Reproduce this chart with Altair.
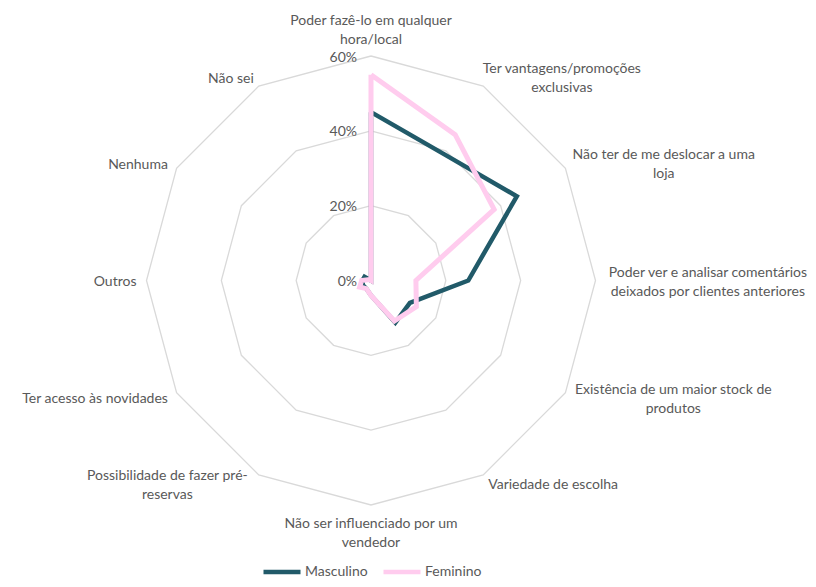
import numpy as np
import pandas as pd
import altair as alt

# ---------------- data ----------------
categories = [
    "Poder fazê-lo em qualquer hora/local",
    "Ter vantagens/promoções exclusivas",
    "Não ter de me deslocar a uma loja",
    "Poder ver e analisar comentários deixados por clientes anteriores",
    "Existência de um maior stock de produtos",
    "Variedade de escolha",
    "Não ser influenciado por um vendedor",
    "Possibilidade de fazer pré-reservas",
    "Ter acesso às novidades",
    "Outros",
    "Nenhuma",
    "Não sei",
]
label_lines = [
    ["Poder fazê-lo em qualquer", "hora/local"],
    ["Ter vantagens/promoções", "exclusivas"],
    ["Não ter de me deslocar a uma", "loja"],
    ["Poder ver e analisar comentários", "deixados por clientes anteriores"],
    ["Existência de um maior stock de", "produtos"],
    ["Variedade de escolha"],
    ["Não ser influenciado por um", "vendedor"],
    ["Possibilidade de fazer pré-", "reservas"],
    ["Ter acesso às novidades"],
    ["Outros"],
    ["Nenhuma"],
    ["Não sei"],
]
masculino = [45, 39, 45, 26, 12, 13, 4, 2.5, 2.5, 2.3, 2, 0]
feminino = [55, 45, 38, 12, 14, 12.5, 4, 2.5, 3.5, 2.5, 0.5, 0]
series_names = ["Masculino", "Feminino"]
series_colors = ["#215A69", "#FFCCEE"]
ring_values = [20, 40, 60]
tick_labels = ["0%", "20%", "40%", "60%"]
tick_values = [0, 20, 40, 60]

# ---------------- layout constants ----------------
W, H = 800, 571          # whole chart (px)
CX, CY = 363, 272.5      # centre of the radar (px, chart coords)
K = 224.5 / 60           # px per percentage point
FONT = "Lato"
FS = 14
TXT = "#595959"
LH = 19
CHARW = 6.4

n = len(categories)
theta = np.arange(n) * 2 * np.pi / n
S, C = np.sin(theta), np.cos(theta)

xdom = [-CX / K, (W - CX) / K]
ydom = [-(H - CY) / K, CY / K]
xs = alt.Scale(domain=xdom, nice=False, zero=False)
ys = alt.Scale(domain=ydom, nice=False, zero=False)

# series table
rows = []
for name, vals in zip(series_names, [masculino, feminino]):
    for k in range(n + 1):
        i = k % n
        rows.append({"series": name, "order": k,
                     "x": vals[i] * S[i], "y": vals[i] * C[i]})
series_df = pd.DataFrame(rows)

# ring table
rrows = []
for r in ring_values:
    for k in range(n + 1):
        i = k % n
        rrows.append({"ring": r, "order": k, "x": r * S[i], "y": r * C[i]})
ring_df = pd.DataFrame(rrows)

# category labels (block centred on anchor; first line placed accordingly)
outer = max(ring_values)
gap = 10 / K
lrows = []
for i, lines in enumerate(label_lines):
    s, c = S[i], C[i]
    vx, vy = outer * s, outer * c
    nl = len(lines)
    halfH = nl * LH / 2 / K
    if abs(s) < 0.01:
        x, y, al = vx, vy + c * (8 / K + halfH), "center"
    else:
        ex = vx + s * gap
        y = vy + c * gap
        if nl == 1:
            x, al = ex, ("left" if s > 0 else "right")
        else:
            halfW = max(len(t) for t in lines) * CHARW / 2 / K
            x, al = ex + np.sign(s) * halfW, "center"
    y_first = y + (nl - 1) * LH / 2 / K   # shift up so the block is centred
    lrows.append({"label": "\n".join(lines), "x": x, "y": y_first, "align": al})
label_df = pd.DataFrame(lrows)

tick_df = pd.DataFrame({"label": tick_labels, "v": tick_values})
tick_df["x"] = -14 / K
tick_df["y"] = tick_df["v"]

# ---------------- chart ----------------
ax = dict(axis=None)
rings = alt.Chart(ring_df).mark_line(stroke="#D9D9D9", strokeWidth=1.3).encode(
    x=alt.X("x:Q", scale=xs, **ax),
    y=alt.Y("y:Q", scale=ys, **ax),
    detail="ring:N",
    order="order:Q",
)

color = alt.Color(
    "series:N",
    scale=alt.Scale(domain=series_names, range=series_colors),
    legend=alt.Legend(
        title=None, orient="none", legendX=253, legendY=543, direction="horizontal",
        symbolType="stroke", symbolSize=1369, symbolStrokeWidth=4.5,
        labelFont=FONT, labelFontSize=FS, labelColor=TXT, labelOffset=2,
        columnPadding=6,
    ),
)

def series_layer(name, width):
    return alt.Chart(series_df).transform_filter(
        alt.datum.series == name
    ).mark_line(strokeWidth=width, strokeJoin="miter", strokeCap="butt").encode(
        x=alt.X("x:Q", scale=xs, **ax),
        y=alt.Y("y:Q", scale=ys, **ax),
        color=color,
        order="order:Q",
    )

masc_layer = series_layer("Masculino", 4.5)
fem_layer = series_layer("Feminino", 5)

def label_layer(al):
    return alt.Chart(label_df).transform_filter(alt.datum.align == al).mark_text(
        font=FONT, fontSize=FS, color=TXT, align=al, baseline="middle",
        lineBreak="\n", lineHeight=LH, dy=1.5,
    ).encode(
        x=alt.X("x:Q", scale=xs, **ax),
        y=alt.Y("y:Q", scale=ys, **ax),
        text="label:N",
    )

ticks = alt.Chart(tick_df).mark_text(
    font=FONT, fontSize=FS, color=TXT, align="right", baseline="middle", dy=1.5,
).encode(
    x=alt.X("x:Q", scale=xs, **ax),
    y=alt.Y("y:Q", scale=ys, **ax),
    text="label:N",
)

chart = alt.layer(
    rings, masc_layer, fem_layer, ticks,
    label_layer("left"), label_layer("right"), label_layer("center"),
).properties(
    width=W, height=H, autosize=alt.AutoSizeParams(type="none"), padding=0,
).configure_view(strokeWidth=0, stroke="transparent")

chart.save("out.html", embed_options={"renderer": "svg", "actions": False})
